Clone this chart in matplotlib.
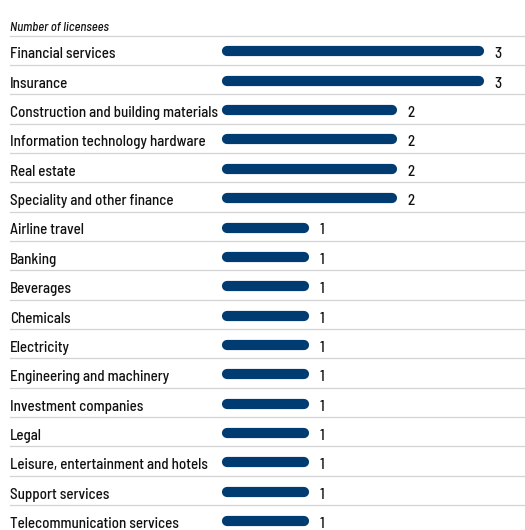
import matplotlib
matplotlib.use("Agg")
import matplotlib.pyplot as plt
from matplotlib.transforms import blended_transform_factory

categories = [
    "Financial services",
    "Insurance",
    "Construction and building materials",
    "Information technology hardware",
    "Real estate",
    "Speciality and other finance",
    "Airline travel",
    "Banking",
    "Beverages",
    "Chemicals",
    "Electricity",
    "Engineering and machinery",
    "Investment companies",
    "Legal",
    "Leisure, entertainment and hotels",
    "Support services",
    "Telecommunication services",
]
licensees = [3, 3, 2, 2, 2, 2, 1, 1, 1, 1, 1, 1, 1, 1, 1, 1, 1]
subtitle = "Number of licensees"

family = ["Barlow Semi Condensed", "DejaVu Sans"]

W, H, DPI = 525, 530, 100
fig = plt.figure(figsize=(W / DPI, H / DPI), dpi=DPI)
ax = fig.add_axes([0, 0, 1, 1])
ax.set_axis_off()

# pixel layout of the value axis and the rows
x0_px, unit_px = 221.7, 87.6
row0_px, step_px = 51.4, 29.35
ax.set_xlim(-x0_px / unit_px, (W - x0_px) / unit_px)
ax.set_ylim((H - row0_px) / step_px, -row0_px / step_px)

navy = "#003c71"
ink = "#111111"
grid = "#d4d4d4"
bar_px = 10.2
cap = (bar_px / 2) / unit_px
base = 7.0 / step_px          # text baseline below the bar centre
trans = blended_transform_factory(ax.transAxes, ax.transData)
left = 10 / W

for i, (name, v) in enumerate(zip(categories, licensees)):
    ax.plot([cap, v - cap], [i, i], color=navy, lw=bar_px * 72 / DPI,
            solid_capstyle="round", zorder=3)
    ax.text(left, i + base, name, transform=trans, ha="left", va="baseline",
            fontsize=10.8, family=family, weight="medium", color=ink)
    ax.text(v + 10 / unit_px, i + base, str(v), ha="left", va="baseline",
            fontsize=10.8, family=family, weight="medium", color=ink)
    ax.plot([left, 1], [i + 0.46, i + 0.46], transform=trans,
            color=grid, lw=0.9, zorder=1)

ax.plot([left, 1], [-0.52, -0.52], transform=trans, color=grid, lw=0.9)
ax.text(left, (31 - row0_px) / step_px, subtitle, transform=trans,
        ha="left", va="baseline", fontsize=9.1, family=family,
        style="italic", weight="medium", color=ink)

fig.savefig("out.png", dpi=DPI)
